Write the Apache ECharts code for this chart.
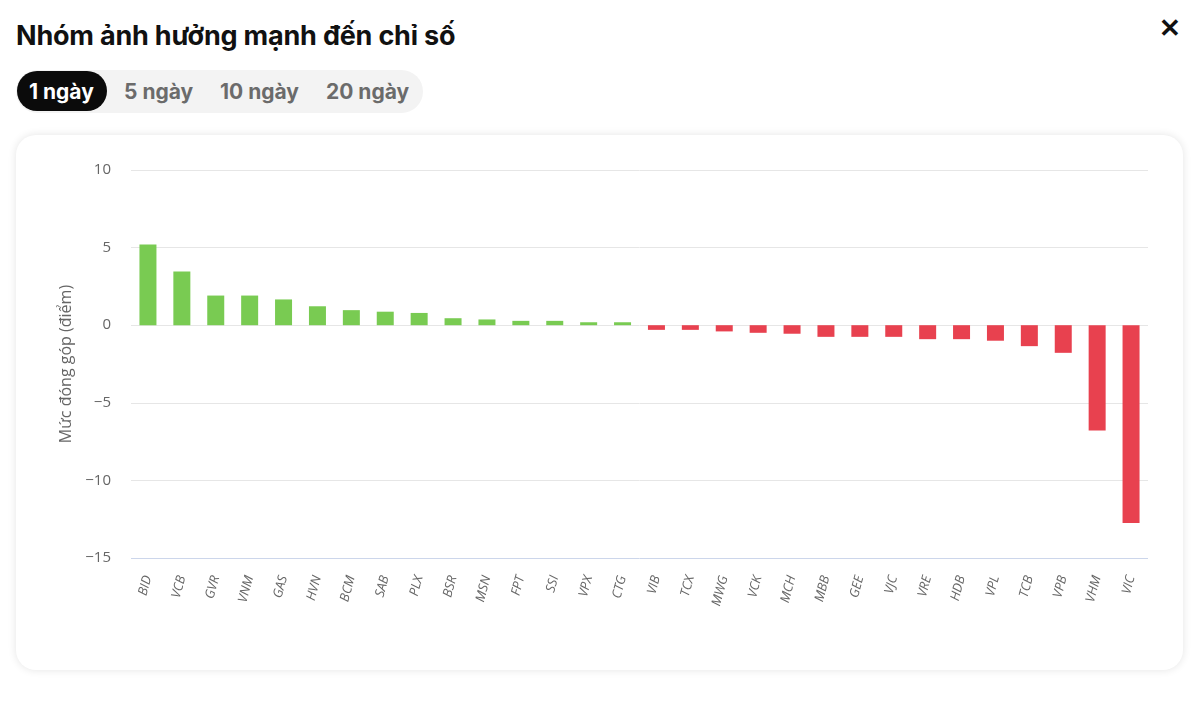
<!DOCTYPE html>
<html>
<head>
<meta charset="utf-8">
<script src="https://cdn.jsdelivr.net/npm/echarts@6/dist/echarts.min.js"></script>
<style>
  html, body { margin: 0; padding: 0; background: #fff; width: 1200px; height: 726px; overflow: hidden; font-family: "Inter", "Noto Sans", sans-serif; }
  #title { position: absolute; left: 16px; top: 19px; font-size: 27px; font-weight: 700; color: #111; letter-spacing: -0.2px; }
  #close { position: absolute; left: 1159px; top: 12px; font-size: 26px; font-weight: 700; color: #111; }
  #tabs { position: absolute; left: 16px; top: 70px; height: 43px; width: 407px; background: #f3f3f3; border-radius: 22px; }
  .tab { position: absolute; top: 1px; height: 40px; line-height: 41px; font-size: 21px; font-weight: 700; color: #6b6b6b; }
  .tab.active { background: #0b0b0b; color: #fff; border-radius: 20px; padding: 0 13px 0 12px; left: 1px; }
  #card { position: absolute; left: 16px; top: 135px; width: 1167px; height: 535px; background: #fff; border-radius: 20px; box-shadow: 0 0 9px rgba(0,0,0,0.11); }
  #chart { position: absolute; left: 0; top: 0; width: 1167px; height: 535px; }
</style>
</head>
<body>
<div id="title">Nhóm ảnh hưởng mạnh đến chỉ số</div>
<div id="close">✕</div>
<div id="tabs">
  <div class="tab active">1 ngày</div>
  <div class="tab" style="left:108px">5 ngày</div>
  <div class="tab" style="left:204px">10 ngày</div>
  <div class="tab" style="left:310px">20 ngày</div>
</div>
<div id="card"><div id="chart"></div></div>
<script>
const categories = ["BID","VCB","GVR","VNM","GAS","HVN","BCM","SAB","PLX","BSR","MSN","FPT","SSI","VPX","CTG","VIB","TCX","MWG","VCK","MCH","MBB","GEE","VJC","VRE","HDB","VPL","TCB","VPB","VHM","VIC"];
const values = [5.2, 3.46, 1.91, 1.91, 1.66, 1.22, 0.97, 0.87, 0.79, 0.45, 0.37, 0.28, 0.28, 0.19, 0.19, -0.3, -0.3, -0.4, -0.49, -0.55, -0.75, -0.75, -0.75, -0.9, -0.9, -1.0, -1.35, -1.78, -6.79, -12.74];
const yTicks = { min: -15, max: 10, interval: 5 };
const yAxisName = "Mức đóng góp (điểm)";
const posColor = "#79cb52";
const negColor = "#e8414f";

const chart = echarts.init(document.getElementById('chart'), null, { renderer: 'canvas' });
chart.setOption({
  animation: false,
  grid: { left: 115, right: 35, top: 35, bottom: 112, containLabel: false },
  xAxis: {
    type: 'category',
    data: categories,
    axisLine: { show: false },
    axisTick: { show: false },
    axisLabel: {
      rotate: 75,
      margin: 18,
      fontSize: 13,
      fontStyle: 'italic',
      color: '#666',
      fontFamily: 'Open Sans',
      interval: 0
    }
  },
  yAxis: {
    type: 'value',
    min: yTicks.min, max: yTicks.max, interval: yTicks.interval,
    name: yAxisName,
    nameLocation: 'middle',
    nameGap: 57,
    nameTextStyle: { fontSize: 16, color: '#666', fontFamily: 'Open Sans' },
    axisLabel: {
      fontSize: 15, color: '#666', margin: 20, fontFamily: 'Open Sans',
      formatter: v => (v < 0 ? '\u2212' + Math.abs(v) : String(v))
    },
    axisLine: { show: false },
    axisTick: { show: false },
    splitLine: {
      lineStyle: {
        color: ['#ccd6eb', '#e6e6e6', '#e6e6e6', '#e6e6e6', '#e6e6e6', '#e6e6e6'],
        width: 1
      }
    }
  },
  series: [{
    type: 'bar',
    data: values.map(v => ({ value: v, itemStyle: { color: v >= 0 ? posColor : negColor } })),
    barWidth: 17
  }]
});
</script>
</body>
</html>
